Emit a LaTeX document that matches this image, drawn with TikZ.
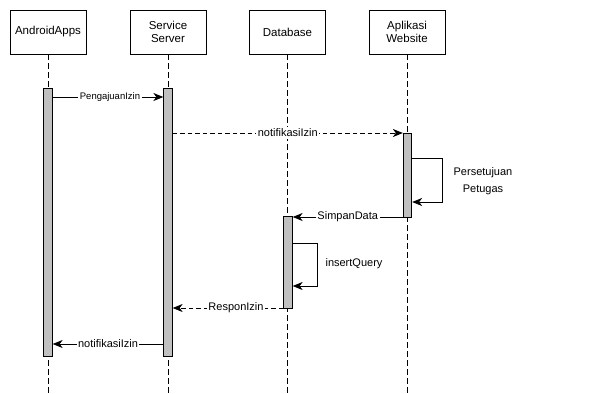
\documentclass[tikz,border=0pt]{standalone}
\usepackage{fontspec}
\setmainfont{Liberation Sans}
\usetikzlibrary{arrows.meta}
\definecolor{bargray}{HTML}{C0C0C0}
\begin{document}
\begin{tikzpicture}[x=1pt,y=-1pt,line width=0.8pt,
  actor/.style={draw,fill=white,minimum width=76pt,minimum height=44pt,inner sep=1pt,align=center,font=\fontsize{11.5}{13.5}\selectfont},
  life/.style={dash pattern=on 6pt off 3pt,line width=0.7pt},
  bar/.style={draw,fill=bargray,minimum width=8.5pt,inner sep=0pt},
  msg/.style={-{Stealth[length=10pt,width=8pt,inset=3pt]}},
  ret/.style={msg,dash pattern=on 4.5pt off 3pt},
  lbl/.style={fill=white,inner sep=1.5pt,font=\fontsize{11}{13}\selectfont},
  slbl/.style={fill=white,inner sep=1.5pt,font=\fontsize{9.5}{11}\selectfont},
  nlbl/.style={inner sep=1pt,align=center,font=\fontsize{11}{17}\selectfont}]
\useasboundingbox (0,0) rectangle (614,394);
% actors
\node[actor] (A) at (48,32) {AndroidApps};
\node[actor] (S) at (168,32) {Service\\Server};
\node[actor] (D) at (287.5,32) {Database};
\node[actor] (W) at (407,32) {Aplikasi\\Website};
% lifeline ends
\coordinate (Ae) at (48,394);
\coordinate (Se) at (168,394);
\coordinate (De) at (287.5,394);
\coordinate (We) at (407,394);
\draw[life] (A.south) -- (Ae);
\draw[life] (S.south) -- (Se);
\draw[life] (D.south) -- (De);
\draw[life] (W.south) -- (We);
% activation bars
\node[bar,minimum height=268pt] (bA) at (48,222) {};
\node[bar,minimum height=268pt] (bS) at (168,222) {};
\node[bar,minimum height=84pt] (bW) at (407.5,175) {};
\node[bar,minimum height=92pt] (bD) at (288,262) {};
% messages
\draw[msg] (bA.east |- 0,97) -- node[slbl,xshift=2pt] {PengajuanIzin} (bS.west |- 0,97);
\draw[ret] (bS.east |- 0,133) -- node[lbl] {notifikasiIzin} (bW.west |- 0,133);
\coordinate (pW) at (442,158);
\coordinate (pW2) at (442,202);
\draw[msg] (bW.east |- 0,158) -- (pW) -- (pW2) -- (bW.east |- 0,202);
\node[nlbl] (tP) at (483,181) {Persetujuan\\Petugas};
\draw[msg] (bW.west |- 0,217) -- node[lbl] {SimpanData} (bD.east |- 0,217);
\coordinate (pD) at (317,243);
\coordinate (pD2) at (317,286);
\draw[msg] (bD.east |- 0,243) -- (pD) -- (pD2) -- (bD.east |- 0,286);
\node[nlbl] (tQ) at (354,264) {insertQuery};
\draw[ret] (bD.west |- 0,308) -- node[lbl,xshift=8pt] {ResponIzin} (bS.east |- 0,308);
\draw[msg] (bS.west |- 0,344) -- node[lbl] {notifikasiIzin} (bA.east |- 0,344);
\end{tikzpicture}
\end{document}
